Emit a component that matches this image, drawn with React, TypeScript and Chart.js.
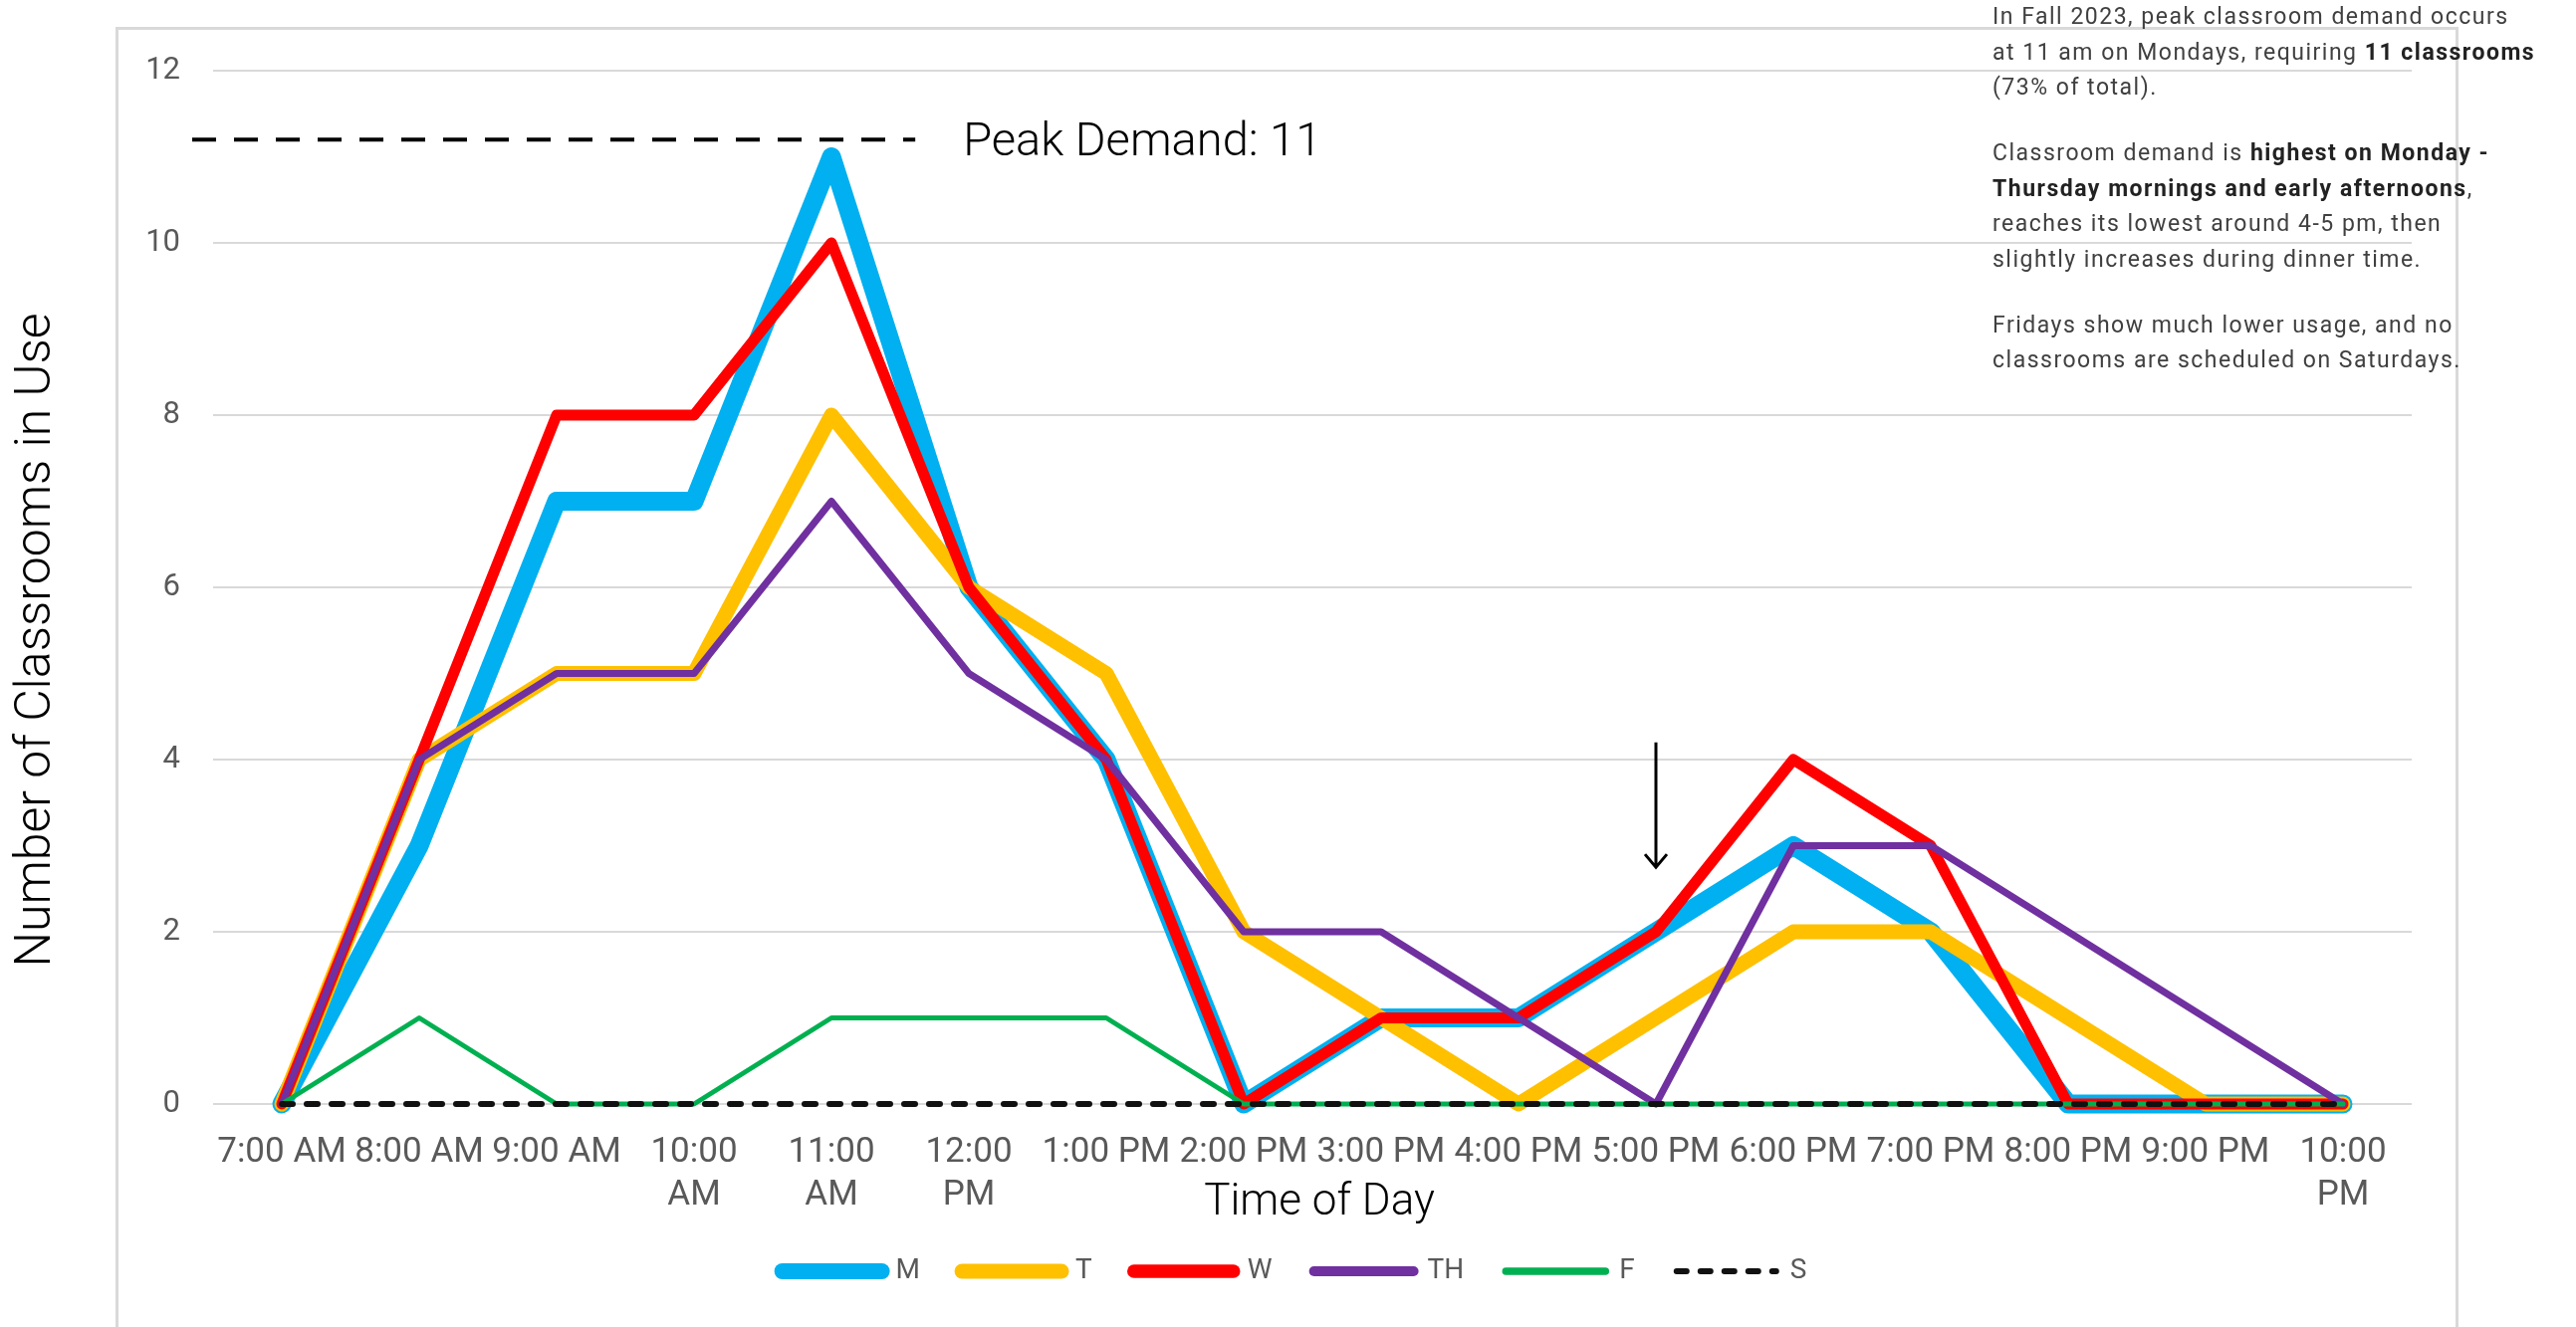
import React, { useEffect, useRef } from "react";
import { Chart, registerables } from "chart.js";

Chart.register(...registerables);

// ---------- data ----------
const CATEGORIES = [
  "7:00 AM", "8:00 AM", "9:00 AM", "10:00 AM", "11:00 AM", "12:00 PM",
  "1:00 PM", "2:00 PM", "3:00 PM", "4:00 PM", "5:00 PM", "6:00 PM",
  "7:00 PM", "8:00 PM", "9:00 PM", "10:00 PM",
];
const TICK_LABELS: (string | string[])[] = [
  "7:00 AM", "8:00 AM", "9:00 AM", ["10:00", "AM"], ["11:00", "AM"], ["12:00", "PM"],
  "1:00 PM", "2:00 PM", "3:00 PM", "4:00 PM", "5:00 PM", "6:00 PM",
  "7:00 PM", "8:00 PM", "9:00 PM", ["10:00", "PM"],
];
const SERIES_NAMES = ["M", "T", "W", "TH", "F", "S"];
const MON = [0, 3, 7, 7, 11, 6, 4, 0, 1, 1, 2, 3, 2, 0, 0, 0];
const TUE = [0, 4, 5, 5, 8, 6, 5, 2, 1, 0, 1, 2, 2, 1, 0, 0];
const WED = [0, 4, 8, 8, 10, 6, 4, 0, 1, 1, 2, 4, 3, 0, 0, 0];
const THU = [0, 4, 5, 5, 7, 5, 4, 2, 2, 1, 0, 3, 3, 2, 1, 0];
const FRI = [0, 1, 0, 0, 1, 1, 1, 0, 0, 0, 0, 0, 0, 0, 0, 0];
const SAT = [0, 0, 0, 0, 0, 0, 0, 0, 0, 0, 0, 0, 0, 0, 0, 0];
const Y_MIN = 0;
const Y_MAX = 12;
const Y_STEP = 2;
const PEAK_VALUE = 11;
const PEAK_LINE_VALUE = 11.2;
const ARROW_INDEX = 10; // 5:00 PM
const ARROW_FROM = 4.2;
const ARROW_TO = 2.75;
const X_TITLE = "Time of Day";
const Y_TITLE = "Number of Classrooms in Use";

// ---------- styles ----------
const FONT = 'Roboto, "Liberation Sans", sans-serif';
const COLORS = ["#00B0F0", "#FFC000", "#FF0000", "#7030A0", "#00B050", "#111111"];
const WIDTHS = [19, 15, 11, 7, 5, 6];
const LEGEND_WIDTHS = [16, 15, 13.5, 10, 7.5, 6];
const ORDERS = [6, 5, 4, 3, 2, 1];

const W = 2587;
const H = 1333;
const LEGEND_CENTER_X = 1300;

const overlayPlugin = {
  id: "overlay",
  afterLayout(chart: any) {
    const lg = chart.legend;
    if (lg) {
      const dx = LEGEND_CENTER_X - (lg.left + lg.right) / 2;
      lg.left += dx;
      lg.right += dx;
    }
  },
  beforeDraw(chart: any) {
    const ctx = chart.ctx;
    ctx.save();
    ctx.fillStyle = "#ffffff";
    ctx.fillRect(0, 0, chart.width, chart.height);
    ctx.strokeStyle = "#d9d9d9";
    ctx.lineWidth = 3;
    ctx.strokeRect(117.5, 28.5, 2350, 1400);
    ctx.restore();
  },
  afterDraw(chart: any) {
    const { ctx, chartArea } = chart;
    const xs = chart.scales.x;
    const ys = chart.scales.y;
    const step = xs.getPixelForValue(1) - xs.getPixelForValue(0);
    ctx.save();

    // peak demand dashed line
    const peakIdx = MON.indexOf(Math.max(...MON));
    const py = ys.getPixelForValue(PEAK_LINE_VALUE);
    const x0 = chartArea.left - 21;
    const x1 = xs.getPixelForValue(peakIdx) + step * 0.61;
    ctx.strokeStyle = "#000";
    ctx.lineWidth = 4;
    ctx.setLineDash([24, 18]);
    ctx.beginPath();
    ctx.moveTo(x0, py);
    ctx.lineTo(x1, py);
    ctx.stroke();
    ctx.setLineDash([]);
    ctx.fillStyle = "#000";
    ctx.font = `300 47px ${FONT}`;
    ctx.textAlign = "left";
    ctx.textBaseline = "middle";
    ctx.fillText(`Peak Demand: ${PEAK_VALUE}`, x1 + 48, py + 4);

    // arrow
    const ax = xs.getPixelForValue(ARROW_INDEX);
    const ay0 = ys.getPixelForValue(ARROW_FROM);
    const ay1 = ys.getPixelForValue(ARROW_TO);
    ctx.lineWidth = 3;
    ctx.beginPath();
    ctx.moveTo(ax, ay0);
    ctx.lineTo(ax, ay1);
    ctx.moveTo(ax - 11, ay1 - 13);
    ctx.lineTo(ax, ay1);
    ctx.lineTo(ax + 11, ay1 - 13);
    ctx.stroke();

    // x title
    ctx.font = `300 44px ${FONT}`;
    ctx.textAlign = "center";
    ctx.fillText(X_TITLE, (chartArea.left + chartArea.right) / 2 + 7, chartArea.bottom + 100);

    // y title
    ctx.translate(37, 643);
    ctx.rotate(-Math.PI / 2);
    ctx.font = `300 50px ${FONT}`;
    ctx.fillText(Y_TITLE, 0, 0);
    ctx.restore();
  },
};

export default function App() {
  const ref = useRef<HTMLCanvasElement | null>(null);

  useEffect(() => {
    if (!ref.current) return;
    const seriesData = [MON, TUE, WED, THU, FRI, SAT];
    const datasets = seriesData.map((d, i) => ({
      label: SERIES_NAMES[i],
      data: d,
      borderColor: COLORS[i],
      backgroundColor: COLORS[i],
      borderWidth: WIDTHS[i],
      borderCapStyle: "round",
      borderJoinStyle: "round",
      borderDash: i === 5 ? [11, 14] : [],
      pointRadius: 0,
      pointHoverRadius: 0,
      tension: 0,
      fill: false,
      clip: false,
      order: ORDERS[i],
    }));

    const chart = new Chart(ref.current, {
      type: "line",
      data: { labels: CATEGORIES, datasets: datasets as any },
      plugins: [overlayPlugin],
      options: {
        responsive: false,
        animation: false,
        events: [],
        layout: { padding: { left: 60, right: 165, top: 71, bottom: 32 } },
        plugins: {
          tooltip: { enabled: false },
          legend: {
            position: "bottom",
            labels: {
              usePointStyle: true,
              pointStyleWidth: 100,
              padding: 42,
              color: "#595959",
              font: { family: FONT, size: 28 },
              generateLabels: (c: any) =>
                c.data.datasets.map((ds: any, i: number) => ({
                  text: ds.label,
                  fillStyle: ds.borderColor,
                  strokeStyle: ds.borderColor,
                  lineWidth: LEGEND_WIDTHS[i],
                  lineCap: "round",
                  lineDash: i === 5 ? [10, 14] : [],
                  pointStyle: "line",
                  hidden: false,
                  datasetIndex: i,
                  fontColor: "#595959",
                })),
            },
          },
        },
        scales: {
          x: {
            type: "category",
            offset: true,
            grid: { display: false, drawTicks: false },
            border: { display: false },
            ticks: {
              autoSkip: false,
              maxRotation: 0,
              minRotation: 0,
              padding: 28,
              color: "#595959",
              font: { family: FONT, size: 35, lineHeight: 1.23 },
              callback: (_v: any, i: number) => TICK_LABELS[i],
            },
            afterFit: (scale: any) => {
              const lg = scale.chart.legend;
              const lh = lg ? lg.height : 0;
              const legendTop = H - 32 - lh;
              scale.height = legendTop - 1109;
            },
          },
          y: {
            min: Y_MIN,
            max: Y_MAX,
            ticks: {
              stepSize: Y_STEP,
              padding: 33,
              color: "#595959",
              font: { family: FONT, size: 31 },
            },
            grid: { color: "#d9d9d9", lineWidth: 2, drawTicks: false },
            border: { display: false },
            afterFit: (scale: any) => {
              scale.width = 154;
            },
          },
        },
      } as any,
    });
    return () => chart.destroy();
  }, []);

  const p: React.CSSProperties = { margin: 0, whiteSpace: "nowrap" };
  const gap: React.CSSProperties = { ...p, marginTop: 30.5 };
  const b: React.CSSProperties = { fontWeight: 700, color: "#222" };

  return (
    <div style={{ position: "absolute", left: 0, top: 0, width: W, height: H, background: "#fff", overflow: "hidden" }}>
      <canvas ref={ref} width={W} height={H} style={{ position: "absolute", left: 0, top: 0, width: W, height: H }} />
      <div
        style={{
          position: "absolute",
          left: 2001,
          top: -1,
          fontFamily: "Roboto, 'Liberation Sans', sans-serif",
          fontSize: 23,
          letterSpacing: "1.5px",
          lineHeight: "35.5px",
          color: "#404040",
        }}
      >
        <p style={p}>
          In Fall 2023, peak classroom demand occurs
          <br />
          at 11 am on Mondays, requiring <span style={b}>11 classrooms</span>
          <br />
          (73% of total).
        </p>
        <p style={gap}>
          Classroom demand is <span style={b}>highest on Monday -</span>
          <br />
          <span style={b}>Thursday mornings and early afternoons</span>,
          <br />
          reaches its lowest around 4-5 pm, then
          <br />
          slightly increases during dinner time.
        </p>
        <p style={gap}>
          Fridays show much lower usage, and no
          <br />
          classrooms are scheduled on Saturdays.
        </p>
      </div>
    </div>
  );
}
